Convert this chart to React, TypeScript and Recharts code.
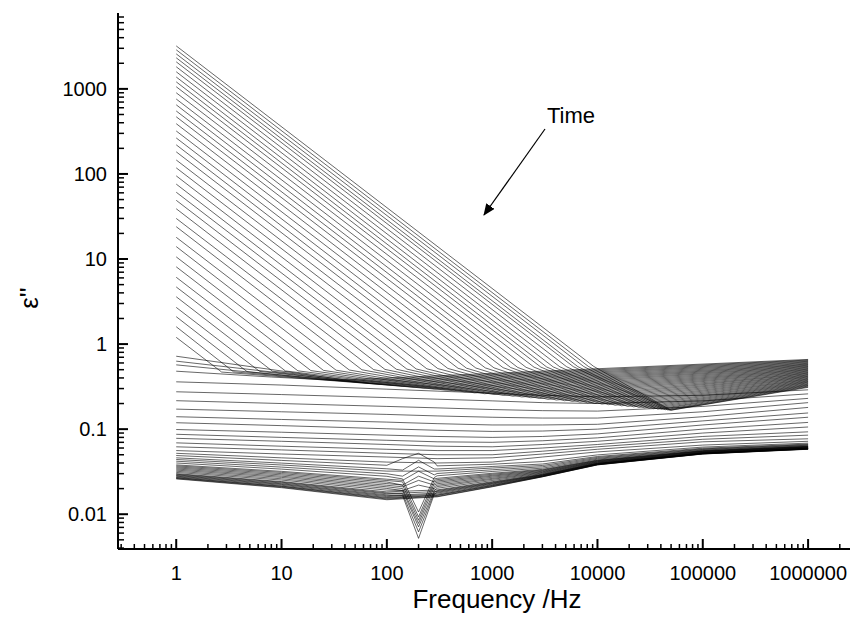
import React from 'react';
import { LineChart, Line, XAxis, YAxis } from 'recharts';

// early scans: conduction branch from 1 Hz down to the knee, then down to a minimum and up to 1 MHz
const meshStart = [3200, 2880, 2580, 2320, 2080, 1820, 1590, 1380, 1210, 1060, 900, 760, 650, 550, 470, 390, 320, 265, 220, 182, 146, 118, 95, 76, 61, 49, 39, 30, 24, 18, 14, 10.6, 8.1, 6.1, 4.7, 3.6, 2.7, 2.1, 1.6, 1.2, 0.72, 0.63, 0.57, 0.48];
const meshKneeF = [9200, 8200, 7400, 6500, 5900, 5100, 4400, 3800, 3300, 2900, 2500, 2100, 1750, 1500, 1270, 1040, 860, 700, 570, 475, 380, 305, 240, 190, 155, 123, 96, 75, 58, 44, 33, 25, 19, 14.3, 10.9, 8.2, 6.2, 4.7, 3.5, 2.7, 15, 13, 10, 8];
const meshKneeV = [0.547, 0.546, 0.545, 0.544, 0.543, 0.541, 0.54, 0.539, 0.537, 0.536, 0.535, 0.533, 0.531, 0.53, 0.528, 0.526, 0.525, 0.523, 0.521, 0.519, 0.517, 0.515, 0.512, 0.51, 0.508, 0.506, 0.504, 0.501, 0.499, 0.496, 0.493, 0.491, 0.488, 0.485, 0.483, 0.48, 0.477, 0.475, 0.472, 0.469, 0.45, 0.44, 0.43, 0.41];
const meshMinF = [50000, 48800, 46600, 43800, 40600, 37400, 34100, 30900, 27700, 24700, 22000, 19300, 16900, 14700, 12700, 11000, 9400, 8000, 6800, 5750, 4850, 4060, 3380, 2810, 2320, 1910, 1570, 1280, 1040, 845, 680, 550, 440, 355, 282, 224, 177, 140, 110, 86, 68, 53, 41, 32];
const meshMinV = [0.167, 0.167, 0.168, 0.169, 0.171, 0.172, 0.174, 0.176, 0.178, 0.18, 0.183, 0.185, 0.188, 0.191, 0.194, 0.197, 0.2, 0.204, 0.208, 0.212, 0.216, 0.22, 0.224, 0.229, 0.234, 0.239, 0.244, 0.249, 0.255, 0.261, 0.267, 0.274, 0.281, 0.288, 0.295, 0.302, 0.31, 0.318, 0.327, 0.336, 0.345, 0.355, 0.365, 0.375];
const meshEnd = [0.31, 0.315, 0.321, 0.327, 0.332, 0.338, 0.344, 0.351, 0.357, 0.363, 0.369, 0.376, 0.383, 0.389, 0.396, 0.404, 0.411, 0.418, 0.425, 0.433, 0.44, 0.449, 0.456, 0.464, 0.473, 0.481, 0.49, 0.499, 0.507, 0.516, 0.526, 0.535, 0.545, 0.554, 0.564, 0.574, 0.583, 0.594, 0.605, 0.616, 0.627, 0.638, 0.649, 0.66];

// late scans, sampled on a common frequency grid
const flatFreq = [1, 10, 100, 300, 1000, 3000, 10000, 100000, 1000000];
const flatScans = [
  [0.36, 0.33, 0.295, 0.28, 0.265, 0.25, 0.24, 0.25, 0.29],
  [0.275, 0.255, 0.235, 0.225, 0.215, 0.205, 0.2, 0.215, 0.26],
  [0.216, 0.2, 0.185, 0.178, 0.17, 0.165, 0.163, 0.185, 0.23],
  [0.172, 0.16, 0.149, 0.143, 0.138, 0.135, 0.135, 0.16, 0.205],
  [0.14, 0.13, 0.121, 0.116, 0.112, 0.112, 0.114, 0.14, 0.18],
  [0.119, 0.11, 0.101, 0.097, 0.094, 0.095, 0.1, 0.125, 0.155],
  [0.099, 0.092, 0.085, 0.082, 0.08, 0.082, 0.088, 0.112, 0.138],
  [0.087, 0.08, 0.074, 0.071, 0.07, 0.073, 0.079, 0.1, 0.12],
  [0.078, 0.072, 0.066, 0.063, 0.062, 0.066, 0.072, 0.09, 0.106],
  [0.069, 0.063, 0.058, 0.056, 0.056, 0.06, 0.066, 0.082, 0.093],
  [0.062, 0.057, 0.052, 0.05, 0.05, 0.055, 0.062, 0.076, 0.085],
  [0.056, 0.051, 0.047, 0.045, 0.046, 0.051, 0.058, 0.071, 0.077],
  [0.052, 0.046, 0.041, 0.04, 0.041, 0.047, 0.054, 0.065, 0.072],
  [0.049, 0.0429, 0.0376, 0.037, 0.0387, 0.0416, 0.0498, 0.0615, 0.0685],
  [0.046, 0.0399, 0.0342, 0.034, 0.0364, 0.0389, 0.0477, 0.0597, 0.0667],
  [0.044, 0.0379, 0.0321, 0.0321, 0.0349, 0.0374, 0.0465, 0.0586, 0.0657],
  [0.042, 0.0358, 0.0299, 0.0301, 0.0333, 0.0361, 0.0454, 0.0577, 0.0647],
  [0.04, 0.0339, 0.0279, 0.0283, 0.0318, 0.0348, 0.0444, 0.0568, 0.0638],
  [0.038, 0.0319, 0.0258, 0.0264, 0.0303, 0.0337, 0.0434, 0.0559, 0.0629],
  [0.037, 0.031, 0.0249, 0.0255, 0.0295, 0.0331, 0.0429, 0.0555, 0.0625],
  [0.036, 0.03, 0.0239, 0.0246, 0.0287, 0.0326, 0.0425, 0.0551, 0.0621],
  [0.035, 0.029, 0.0229, 0.0237, 0.028, 0.032, 0.042, 0.0547, 0.0617],
  [0.034, 0.028, 0.0219, 0.0228, 0.0272, 0.0315, 0.0415, 0.0542, 0.0613],
  [0.033, 0.0271, 0.021, 0.0219, 0.0264, 0.031, 0.0411, 0.0538, 0.0609],
  [0.032, 0.0261, 0.0201, 0.0211, 0.0257, 0.0305, 0.0407, 0.0534, 0.0605],
  [0.031, 0.0252, 0.0192, 0.0202, 0.0249, 0.03, 0.0402, 0.053, 0.0601],
  [0.03, 0.0242, 0.0183, 0.0193, 0.0241, 0.0295, 0.0398, 0.0526, 0.0597],
  [0.0295, 0.0238, 0.0178, 0.0189, 0.0237, 0.0292, 0.0396, 0.0524, 0.0595],
  [0.029, 0.0233, 0.0174, 0.0185, 0.0233, 0.029, 0.0394, 0.0522, 0.0593],
  [0.0285, 0.0228, 0.0169, 0.0181, 0.023, 0.0287, 0.0391, 0.052, 0.0591],
  [0.028, 0.0224, 0.0165, 0.0177, 0.0226, 0.0285, 0.0389, 0.0518, 0.0589],
  [0.0275, 0.0219, 0.0161, 0.0172, 0.0222, 0.0282, 0.0387, 0.0516, 0.0587],
  [0.027, 0.0214, 0.0157, 0.0168, 0.0218, 0.028, 0.0384, 0.0514, 0.0585],
  [0.0267, 0.0212, 0.0154, 0.0166, 0.0216, 0.0278, 0.0383, 0.0513, 0.0584],
  [0.0263, 0.0208, 0.0151, 0.0162, 0.0212, 0.0276, 0.0381, 0.0511, 0.0582],
  [0.026, 0.0205, 0.0148, 0.016, 0.021, 0.0275, 0.038, 0.051, 0.058],
];

// extra points around the 200 Hz glitch, keyed by row of flatScans
const dipFreq = [141, 200, 282];
const dipScans: Record<number, number[]> = {
  13: [0.045, 0.052, 0.041],
  14: [0.033, 0.043, 0.034],
  16: [0.028, 0.036, 0.029],
  17: [0.026, 0.0106, 0.027],
  18: [0.025, 0.032, 0.026],
  19: [0.024, 0.0093, 0.025],
  20: [0.022, 0.028, 0.024],
  21: [0.022, 0.0085, 0.023],
  22: [0.021, 0.025, 0.022],
  23: [0.02, 0.0078, 0.021],
  24: [0.019, 0.022, 0.02],
  25: [0.019, 0.0071, 0.019],
  27: [0.0175, 0.0062, 0.018],
  29: [0.0166, 0.0052, 0.0172],
};

const xDomain = [0.28, 2.5e6];
const yDomain = [0.0039, 7800];
const xMajor = [1, 10, 100, 1000, 10000, 100000, 1000000];
const yMajor = [0.01, 0.1, 1, 10, 100, 1000];

type Pt = { f: number; v: number };

const series: Pt[][] = [];
meshStart.forEach((v0, i) => {
  series.push([
    { f: 1, v: v0 },
    { f: meshKneeF[i], v: meshKneeV[i] },
    { f: meshMinF[i], v: meshMinV[i] },
    { f: 1e6, v: meshEnd[i] },
  ]);
});
flatScans.forEach((row, k) => {
  const pts = row.map((v, n) => ({ f: flatFreq[n], v }));
  const d = dipScans[k];
  if (d) {
    d.forEach((v, n) => pts.push({ f: dipFreq[n], v }));
    pts.sort((a, b) => a.f - b.f);
  }
  series.push(pts);
});

// majors plus 2..9 minors for each decade inside the domain
const logTicks = (lo: number, hi: number, majors: number[]) => {
  const out: number[] = [];
  for (let e = Math.floor(Math.log10(lo)); e <= Math.ceil(Math.log10(hi)); e++) {
    for (let m = 2; m < 10; m++) {
      const t = Number((m * Math.pow(10, e)).toPrecision(3));
      if (t >= lo && t <= hi) out.push(t);
    }
  }
  return [...majors, ...out].sort((a, b) => a - b);
};
const isMajor = (v: number) => {
  const l = Math.log10(v);
  return Math.abs(l - Math.round(l)) < 1e-6;
};

const font = '"Liberation Sans", Arial, sans-serif';

const XTick = ({ x, y, payload }: any) => {
  const major = isMajor(payload.value);
  return (
    <g>
      <line x1={x} x2={x} y1={y} y2={y - (major ? 10 : 5)} stroke="#000" strokeWidth={major ? 2 : 1.5} />
      {major && (
        <text x={x} y={y + 31} textAnchor="middle" fontSize={20} fontFamily={font} fill="#000">
          {String(payload.value)}
        </text>
      )}
    </g>
  );
};

const YTick = ({ x, y, payload }: any) => {
  const major = isMajor(payload.value);
  return (
    <g>
      <line x1={x} x2={x + (major ? 10 : 6)} y1={y} y2={y} stroke="#000" strokeWidth={major ? 2 : 1.5} />
      {major && (
        <text x={x - 11} y={y} dy="0.36em" textAnchor="end" fontSize={20} fontFamily={font} fill="#000">
          {String(payload.value)}
        </text>
      )}
    </g>
  );
};

export default function App() {
  return (
    <div style={{ position: 'absolute', left: 0, top: 0, width: 855, height: 635, background: '#fff' }}>
      <LineChart width={855} height={635} margin={{ top: 13, right: 5, bottom: 56, left: 58 }}>
        <XAxis
          dataKey="f"
          type="number"
          scale="log"
          domain={xDomain}
          allowDataOverflow
          ticks={logTicks(xDomain[0], xDomain[1], xMajor)}
          interval={0}
          tick={<XTick />}
          tickLine={false}
          tickSize={0}
          tickMargin={0}
          height={30}
          axisLine={{ stroke: '#000', strokeWidth: 2 }}
        />
        <YAxis
          dataKey="v"
          type="number"
          scale="log"
          domain={yDomain}
          allowDataOverflow
          ticks={logTicks(yDomain[0], yDomain[1], yMajor)}
          interval={0}
          tick={<YTick />}
          tickLine={false}
          tickSize={0}
          tickMargin={0}
          width={60}
          axisLine={{ stroke: '#000', strokeWidth: 2 }}
        />
        {series.map((pts, i) => (
          <Line
            key={`scan-${i}`}
            data={pts}
            dataKey="v"
            type="linear"
            stroke="#000"
            strokeWidth={0.6}
            dot={false}
            activeDot={false}
            isAnimationActive={false}
          />
        ))}
      </LineChart>
      <svg width={855} height={635} style={{ position: 'absolute', left: 0, top: 0, pointerEvents: 'none' }}>
        <defs>
          <marker id="head" markerWidth="12" markerHeight="10" refX="11" refY="5" orient="auto" markerUnits="userSpaceOnUse">
            <path d="M0,0 L12,5 L0,10 z" fill="#000" />
          </marker>
        </defs>
        <text x={571} y={123} textAnchor="middle" fontSize={22} fontFamily={font} fill="#000">Time</text>
        <line x1={545} y1={129} x2={484} y2={215} stroke="#000" strokeWidth={1.2} markerEnd="url(#head)" />
        <text x={497} y={608} textAnchor="middle" fontSize={26} fontFamily={font} fill="#000">Frequency /Hz</text>
        <text x={0} y={0} transform="translate(38,298) rotate(-90)" textAnchor="middle" fontSize={26} fontFamily={font} fill="#000">ε''</text>
      </svg>
    </div>
  );
}
